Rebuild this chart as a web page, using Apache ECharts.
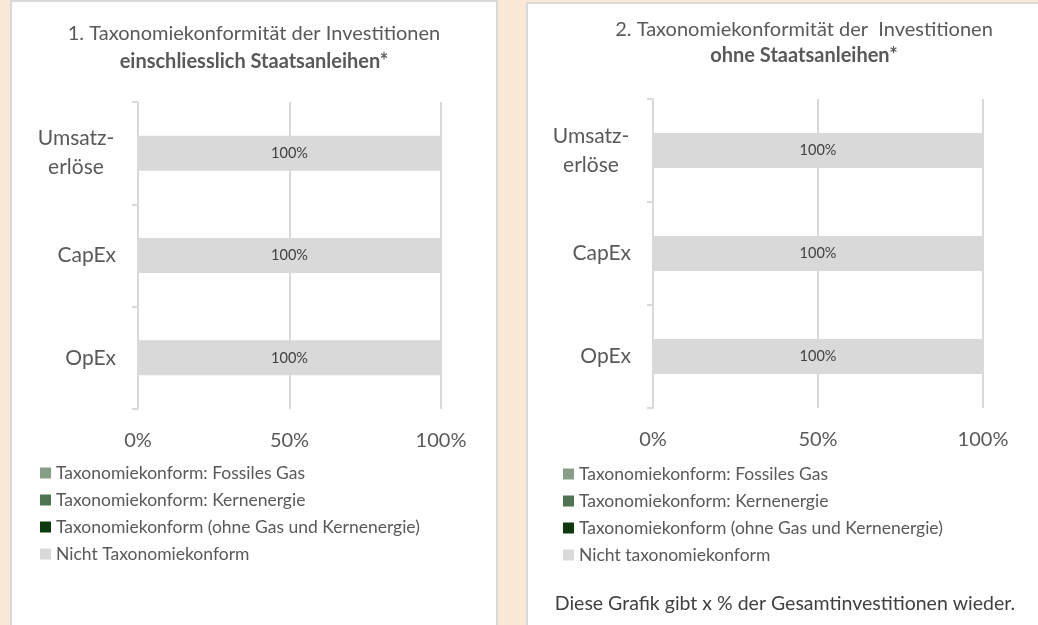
<!DOCTYPE html>
<html><head><meta charset="utf-8">
<script src="https://cdn.jsdelivr.net/npm/echarts@6/dist/echarts.min.js"></script>
<style>html,body{margin:0;padding:0;background:#fbe9d7;}#c{width:1038px;height:625px;}</style>
</head><body><div id="c"></div>
<script>
const categories = ['Umsatz-\nerlöse', 'CapEx', 'OpEx'];
const xTicks = [0, 50, 100];
const seriesNamesLeft = ['Taxonomiekonform: Fossiles Gas', 'Taxonomiekonform: Kernenergie', 'Taxonomiekonform (ohne Gas und Kernenergie)', 'Nicht Taxonomiekonform'];
const seriesNamesRight = ['Taxonomiekonform: Fossiles Gas', 'Taxonomiekonform: Kernenergie', 'Taxonomiekonform (ohne Gas und Kernenergie)', 'Nicht taxonomiekonform'];
const seriesColors = ['#869e86', '#4f7452', '#0c3a0c', '#d9d9d9'];
// values per series (Umsatzerlöse, CapEx, OpEx)
const gasLeft = [0, 0, 0];
const kernLeft = [0, 0, 0];
const ohneLeft = [0, 0, 0];
const nichtLeft = [100, 100, 100];
const gasRight = [0, 0, 0];
const kernRight = [0, 0, 0];
const ohneRight = [0, 0, 0];
const nichtRight = [100, 100, 100];

const FONT = 'Lato';
const TXT = '#595959';

function yAxis(gi) {
  return {
    type: 'category', gridIndex: gi, data: categories, inverse: true,
    axisLine: {show: true, lineStyle: {color: '#d9d9d9', width: 2}},
    axisTick: {show: true, length: 6, lineStyle: {color: '#d9d9d9', width: 2}},
    axisLabel: {
      margin: 22, fontFamily: FONT, fontSize: 21, color: TXT,
      formatter: v => v.indexOf('\n') >= 0 ? v.split('\n').map(s => '{c|' + s + '}').join('\n') : v,
      rich: {c: {width: 80, align: 'center', fontFamily: FONT, fontSize: 21, color: TXT, lineHeight: 29}}
    }
  };
}
function xAxis(gi) {
  return {
    type: 'value', gridIndex: gi, min: xTicks[0], max: xTicks[xTicks.length - 1], interval: xTicks[1] - xTicks[0],
    axisLine: {show: false}, axisTick: {show: false},
    splitLine: {show: true, lineStyle: {color: '#d9d9d9', width: 2}},
    axisLabel: {margin: 22, fontFamily: FONT, fontSize: 20, color: TXT, formatter: '{value}%'}
  };
}
function mkSeries(names, arrs, gi) {
  return names.map((n, i) => ({
    name: n, type: 'bar', stack: 's' + gi, xAxisIndex: gi, yAxisIndex: gi,
    data: arrs[i], barWidth: 35, itemStyle: {color: seriesColors[i]},
    label: {show: i === 3, position: 'inside', formatter: '{c}%', fontFamily: FONT, fontSize: 14.5, color: '#404040'},
    emphasis: {disabled: true}, animation: false
  }));
}
const chart = echarts.init(document.getElementById('c'));
chart.setOption({
  animation: false,
  backgroundColor: '#fbe9d7',
  graphic: [
    {type: 'rect', shape: {x: 11, y: 1, width: 486, height: 640}, style: {fill: '#fff', stroke: '#d9d9d9', lineWidth: 2}, z: -10},
    {type: 'rect', shape: {x: 527, y: 3, width: 530, height: 640}, style: {fill: '#fff', stroke: '#d9d9d9', lineWidth: 2}, z: -10},
    {type: 'text', x: 785, y: 604, style: {text: 'Diese Grafik gibt x % der Gesamtinvestitionen wieder.', fontFamily: FONT, fontSize: 19.5, fill: '#404040', align: 'center', verticalAlign: 'middle'}}
  ],
  title: [
    {text: '1. Taxonomiekonformität der Investitionen', subtext: 'einschliesslich Staatsanleihen*', left: 249, top: 18, textAlign: 'center', itemGap: 6,
     textStyle: {fontFamily: FONT, fontSize: 20, lineHeight: 22, fontWeight: 'normal', color: TXT}, subtextStyle: {fontFamily: FONT, fontSize: 20, lineHeight: 22, fontWeight: 'bold', color: TXT}},
    {text: '2. Taxonomiekonformität der  Investitionen', subtext: 'ohne Staatsanleihen*', left: 799, top: 14, textAlign: 'center', itemGap: 4,
     textStyle: {fontFamily: FONT, fontSize: 20, lineHeight: 22, fontWeight: 'normal', color: TXT}, subtextStyle: {fontFamily: FONT, fontSize: 20, lineHeight: 22, fontWeight: 'bold', color: TXT}}
  ],
  legend: [
    {data: seriesNamesLeft, orient: 'vertical', left: 40, top: 464, padding: 0, itemWidth: 11, itemHeight: 11, itemGap: 9, itemTextGap: 5, icon: 'rect',
     textStyle: {fontFamily: FONT, fontSize: 17.5, color: TXT}, selectedMode: false},
    {data: seriesNamesRight, orient: 'vertical', left: 563, top: 465, padding: 0, itemWidth: 11, itemHeight: 11, itemGap: 9, itemTextGap: 4, icon: 'rect',
     textStyle: {fontFamily: FONT, fontSize: 17.5, color: TXT}, selectedMode: false}
  ],
  grid: [
    {left: 138, right: 1038 - 441, top: 102, bottom: 625 - 409, containLabel: false},
    {left: 653, right: 1038 - 983, top: 99, bottom: 625 - 408, containLabel: false}
  ],
  xAxis: [xAxis(0), xAxis(1)],
  yAxis: [yAxis(0), yAxis(1)],
  series: [].concat(
    mkSeries(seriesNamesLeft, [gasLeft, kernLeft, ohneLeft, nichtLeft], 0),
    mkSeries(seriesNamesRight, [gasRight, kernRight, ohneRight, nichtRight], 1)
  )
});
</script></body></html>
